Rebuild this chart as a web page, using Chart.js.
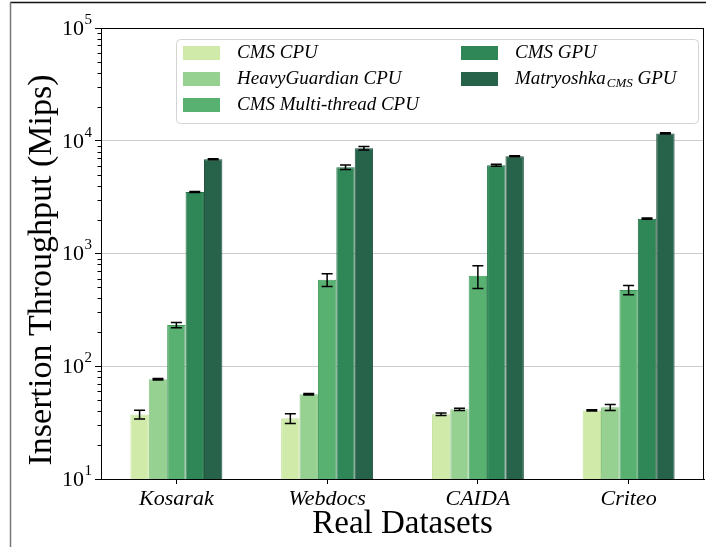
<!DOCTYPE html>
<html>
<head>
<meta charset="utf-8">
<script src="https://cdn.jsdelivr.net/npm/chart.js@4.4.0/dist/chart.umd.min.js"></script>
<style>
  html, body { margin: 0; padding: 0; background: #fff; }
</style>
</head>
<body>
<canvas id="throughputChart" width="706" height="547"></canvas>
<script>
const datasetNames = ['Kosarak', 'Webdocs', 'CAIDA', 'Criteo'];
const seriesNames = ['CMS CPU', 'HeavyGuardian CPU', 'CMS Multi-thread CPU', 'CMS GPU', 'Matryoshka GPU'];

// mean insertion throughput (Mips) and error (std) per dataset
const cmsCpu = [37.4, 34.5, 37.5, 40.6];
const cmsCpuErr = [3.4, 3.4, 1.0, 0.6];
const heavyGuardianCpu = [76.7, 56.4, 41.5, 43.2];
const heavyGuardianErr = [1.0, 0.8, 1.0, 2.7];
const multiThreadCpu = [232, 585, 635, 475];
const multiThreadErr = [12, 75, 145, 44];
const cmsGpu = [3510, 5820, 6070, 2035];
const cmsGpuErr = [40, 260, 125, 25];
const matryoshkaGpu = [6860, 8590, 7300, 11620];
const matryoshkaErr = [80, 320, 80, 150];

const yTicks = [10, 100, 1000, 10000, 100000];

const fills = ['#d0eba9', '#97d192', '#58b170', '#2f8757', '#27624a'];
const edges = ['#c2e09a', '#86c482', '#3f9b5c', '#236f45', '#1c4f3a'];

const serif = '"Liberation Serif", "DejaVu Serif", serif';
const yTitle = 'Insertion Throughput (Mips)';

const values = [cmsCpu, heavyGuardianCpu, multiThreadCpu, cmsGpu, matryoshkaGpu];
const errors = [cmsCpuErr, heavyGuardianErr, multiThreadErr, cmsGpuErr, matryoshkaErr];

// figure frame, spines, minor ticks, power-of-ten labels, y title
const framePlugin = {
  id: 'frame',
  beforeDraw(chart) {
    const ctx = chart.ctx;
    ctx.save();
    ctx.fillStyle = '#fff';
    ctx.fillRect(0, 0, chart.width, chart.height);
    ctx.restore();
  },
  afterDraw(chart) {
    const ctx = chart.ctx;
    const a = chart.chartArea;
    const y = chart.scales.y;
    ctx.save();
    ctx.strokeStyle = '#000';
    ctx.lineWidth = 1;
    ctx.strokeRect(a.left + 0.5, a.top + 0.5, a.right - a.left - 1, a.bottom - a.top);

    // minor ticks
    ctx.beginPath();
    for (let d = 10; d < 100000; d *= 10) {
      for (let k = 2; k <= 9; k++) {
        const py = Math.round(y.getPixelForValue(k * d)) + 0.5;
        ctx.moveTo(a.left - 3.5, py);
        ctx.lineTo(a.left, py);
      }
    }
    ctx.stroke();

    // y tick labels as 10^n
    ctx.fillStyle = '#000';
    ctx.textBaseline = 'middle';
    yTicks.forEach(v => {
      const py = y.getPixelForValue(v);
      const exp = String(Math.round(Math.log10(v)));
      ctx.font = '15px ' + serif;
      const we = ctx.measureText(exp).width;
      const right = a.left - 9;
      ctx.textAlign = 'left';
      ctx.fillText(exp, right - we, py - 8);
      ctx.font = '22px ' + serif;
      ctx.textAlign = 'right';
      ctx.fillText('10', right - we - 0.5, py + 1);
    });

    // y axis title
    ctx.save();
    ctx.translate(42, 270);
    ctx.rotate(-Math.PI / 2);
    ctx.font = '34px ' + serif;
    ctx.textAlign = 'center';
    ctx.textBaseline = 'middle';
    ctx.fillText(yTitle, 0, 0);
    ctx.restore();

    // outer figure border
    ctx.strokeStyle = '#111';
    ctx.lineWidth = 1.5;
    ctx.beginPath();
    ctx.moveTo(10, 2.5);
    ctx.lineTo(chart.width, 2.5);
    ctx.stroke();
    ctx.strokeStyle = '#777';
    ctx.beginPath();
    ctx.moveTo(10.5, 2);
    ctx.lineTo(10.5, chart.height);
    ctx.stroke();
    ctx.restore();
  }
};

// error bars with caps
const errorBarPlugin = {
  id: 'errorBars',
  afterDatasetsDraw(chart) {
    const ctx = chart.ctx;
    const y = chart.scales.y;
    ctx.save();
    ctx.strokeStyle = '#000';
    ctx.lineWidth = 1.5;
    chart.data.datasets.forEach((ds, i) => {
      const meta = chart.getDatasetMeta(i);
      meta.data.forEach((bar, j) => {
        const v = ds.data[j];
        const e = errors[i][j];
        const top = y.getPixelForValue(v + e);
        const bot = y.getPixelForValue(v - e);
        ctx.beginPath();
        ctx.moveTo(bar.x, top);
        ctx.lineTo(bar.x, bot);
        ctx.moveTo(bar.x - 5.5, top);
        ctx.lineTo(bar.x + 5.5, top);
        ctx.moveTo(bar.x - 5.5, bot);
        ctx.lineTo(bar.x + 5.5, bot);
        ctx.stroke();
      });
    });
    ctx.restore();
  }
};

// two-column legend inside the plot
const legendPlugin = {
  id: 'boxLegend',
  afterDraw(chart) {
    const ctx = chart.ctx;
    const box = { x: 176, y: 39.5, w: 522, h: 84 };
    ctx.save();
    ctx.fillStyle = 'rgba(255,255,255,0.85)';
    ctx.strokeStyle = '#d4d4d4';
    ctx.lineWidth = 1;
    ctx.beginPath();
    ctx.roundRect(box.x + 0.5, box.y, box.w, box.h, 4);
    ctx.fill();
    ctx.stroke();

    const slots = [
      [183, 53], [183, 79], [183, 105],
      [461, 53], [461, 79]
    ];
    ctx.textBaseline = 'middle';
    ctx.textAlign = 'left';
    ctx.fillStyle = '#000';
    chart.data.datasets.forEach((ds, i) => {
      const [sx, sy] = slots[i];
      ctx.fillStyle = fills[i];
      ctx.fillRect(sx, sy - 7, 37, 14);
      ctx.fillStyle = '#000';
      const tx = sx + 54;
      ctx.font = 'italic 19px ' + serif;
      if (ds.label === 'Matryoshka GPU') {
        ctx.fillText('Matryoshka', tx, sy);
        let w = ctx.measureText('Matryoshka').width;
        ctx.font = 'italic 13px ' + serif;
        ctx.fillText('CMS', tx + w + 1, sy + 5);
        w += ctx.measureText('CMS').width + 1;
        ctx.font = 'italic 19px ' + serif;
        ctx.fillText(' GPU', tx + w, sy);
      } else {
        ctx.fillText(ds.label, tx, sy);
      }
    });
    ctx.restore();
  }
};

const ctx = document.getElementById('throughputChart').getContext('2d');
const throughputChart = new Chart(ctx, {
  type: 'bar',
  data: {
    labels: datasetNames,
    datasets: seriesNames.map((name, i) => ({
      label: name,
      data: values[i],
      backgroundColor: fills[i],
      borderColor: edges[i],
      borderWidth: 1,
      borderSkipped: 'bottom',
      categoryPercentage: 0.61,
      barPercentage: 1.0
    }))
  },
  options: {
    responsive: false,
    animation: false,
    layout: { padding: { top: 28, right: 2, left: 0, bottom: 0 } },
    plugins: {
      legend: { display: false },
      tooltip: { enabled: false }
    },
    scales: {
      x: {
        grid: { drawOnChartArea: false, offset: false, tickLength: 5, tickColor: '#000' },
        border: { display: true, color: '#000' },
        ticks: { color: '#000', padding: 2, font: { family: serif, style: 'italic', size: 22 } },
        title: {
          display: true, text: 'Real Datasets', color: '#000',
          font: { family: serif, size: 33 }, padding: { top: 0, bottom: 3 }
        },
        afterFit: s => { s.height = 68; }
      },
      y: {
        type: 'logarithmic',
        min: 10,
        max: 100000,
        afterBuildTicks: s => { s.ticks = yTicks.map(v => ({ value: v, major: true })); },
        ticks: { display: false },
        grid: { color: '#cccccc', lineWidth: 1, tickLength: 6, tickColor: '#000' },
        border: { display: true, color: '#000' },
        afterFit: s => { s.width = 101; }
      }
    }
  },
  plugins: [framePlugin, errorBarPlugin, legendPlugin]
});
</script>
</body>
</html>
